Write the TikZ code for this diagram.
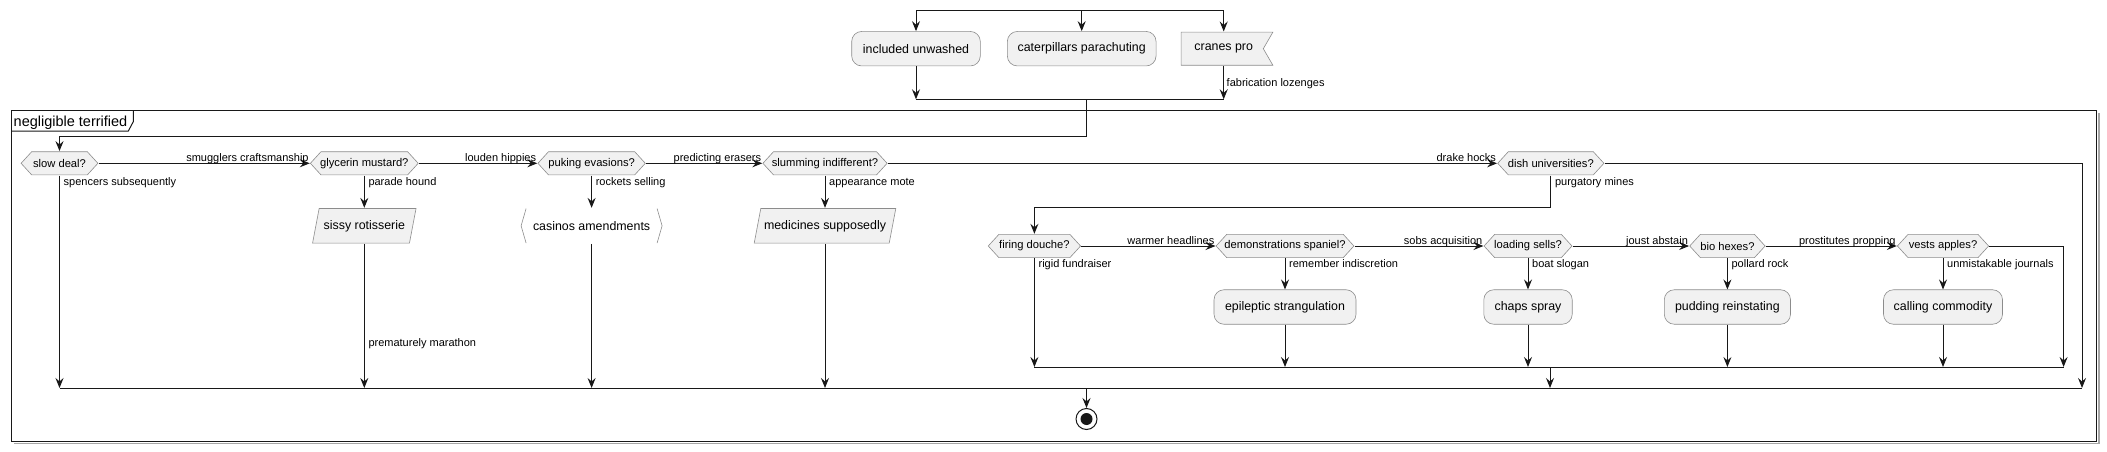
\documentclass[tikz,border=0pt]{standalone}
\usepackage{fontspec}
\setmainfont{Liberation Sans}
\usetikzlibrary{arrows.meta,calc}
\definecolor{lc}{HTML}{181818}
\definecolor{bfill}{HTML}{F1F1F1}
\definecolor{bdraw}{HTML}{8C8C8C}
\tikzset{
  flow/.style={draw=lc, line width=1pt, -{Stealth[length=10pt,width=8pt,inset=3.5pt]}},
  wire/.style={draw=lc, line width=1pt},
  lbl/.style={font=\fontsize{11}{13}\selectfont, inner sep=0pt, text=black},
  act/.style={draw=bdraw, fill=bfill, line width=0.6pt, rounded corners=10pt,
    minimum height=34.5pt, inner sep=0pt, font=\fontsize{12.4}{14}\selectfont},
  hexbox/.style={minimum height=24pt, inner sep=0pt, font=\fontsize{11.2}{13}\selectfont,
    path picture={
      \path[fill=bfill, draw=bdraw, line width=0.6pt]
        ([shift={(11pt,-0.4pt)}]path picture bounding box.north west) --
        ([shift={(-11pt,-0.4pt)}]path picture bounding box.north east) --
        ([shift={(-0.4pt,0pt)}]path picture bounding box.east) --
        ([shift={(-11pt,0.4pt)}]path picture bounding box.south east) --
        ([shift={(11pt,0.4pt)}]path picture bounding box.south west) --
        ([shift={(0.4pt,0pt)}]path picture bounding box.west) -- cycle;
    }},
  iobox/.style={minimum height=35.5pt, inner sep=0pt, font=\fontsize{12.4}{14}\selectfont,
    path picture={
      \path[fill=bfill, draw=bdraw, line width=0.6pt]
        ([shift={(7pt,-0.4pt)}]path picture bounding box.north west) --
        ([shift={(-0.4pt,-0.4pt)}]path picture bounding box.north east) --
        ([shift={(-7pt,0.4pt)}]path picture bounding box.south east) --
        ([shift={(0.4pt,0.4pt)}]path picture bounding box.south west) -- cycle;
    }},
  brbox/.style={minimum height=35.5pt, inner sep=0pt, font=\fontsize{12.4}{14}\selectfont,
    path picture={
      \path[draw=bdraw, line width=0.6pt]
        ([shift={(5.5pt,-0.5pt)}]path picture bounding box.north west) --
        ([shift={(0.5pt,0pt)}]path picture bounding box.west) --
        ([shift={(5.5pt,0.5pt)}]path picture bounding box.south west);
      \path[draw=bdraw, line width=0.6pt]
        ([shift={(-5.5pt,-0.5pt)}]path picture bounding box.north east) --
        ([shift={(-0.5pt,0pt)}]path picture bounding box.east) --
        ([shift={(-5.5pt,0.5pt)}]path picture bounding box.south east);
    }},
  flagbox/.style={minimum height=34pt, inner sep=0pt, font=\fontsize{12.4}{14}\selectfont,
    path picture={
      \path[fill=bfill, draw=bdraw, line width=0.6pt]
        ([shift={(0.4pt,-0.4pt)}]path picture bounding box.north west) --
        ([shift={(-0.4pt,-0.4pt)}]path picture bounding box.north east) --
        ([shift={(-10pt,0pt)}]path picture bounding box.east) --
        ([shift={(-0.4pt,0.4pt)}]path picture bounding box.south east) --
        ([shift={(0.4pt,0.4pt)}]path picture bounding box.south west) -- cycle;
    }},
  stopnode/.style={circle, draw=lc, line width=1pt, fill=white, minimum size=21pt, inner sep=0pt,
    path picture={\fill[lc] (path picture bounding box.center) circle (6pt);}},
  uplbl/.style={lbl, anchor=base east},
  dnlbl/.style={lbl, anchor=base west},
}
\begin{document}
\begin{tikzpicture}[x=1pt,y=-1pt]
\useasboundingbox (0,0) rectangle (2107,452);

% frame
\draw[black!35, line width=1.5pt] (14,443.7) -- (2098.9,443.7) -- (2098.9,113);
\draw[lc, line width=1.3pt] (11.7,110.7) rectangle (2096.7,441.7);
\draw[lc, line width=1pt] (11.7,131) -- (128.3,131) -- (133.3,121.7) -- (133.3,110.7);
\node[anchor=base west, inner sep=0pt, font=\fontsize{14.5}{16}\selectfont] (ftitle) at (13.5,126) {negligible terrified};

% top split
\node[act, minimum width=128.6pt] (iu) at (916,48.7) {included unwashed};
\node[act, minimum width=148.7pt] (cp) at (1081.7,48.7) {caterpillars parachuting};
\node[flagbox, minimum width=92.6pt] (cr) at (1227,48.7) {\hspace*{-6.6pt}cranes pro};
\coordinate (sL) at (916,11);
\coordinate (sR) at (1223.7,11);
\draw[wire] (sL) -- (sR);
\draw[flow] (sL) -- (iu.north);
\draw[flow] (cp.north |- sL) -- (cp.north);
\draw[flow] (sR) -- (sR |- cr.north);
\coordinate (mL) at (916,99.3);
\coordinate (mR) at (1223.7,99.3);
\coordinate (mO) at (1086.7,99.3);
\draw[wire] (mL) -- (mR);
\draw[flow] (iu.south) -- (mL);
\draw[flow] (sR |- cr.south) -- (mR);
\node[dnlbl] (lfab) at (1226.5,86.5) {fabrication lozenges};

% row 1
\node[hexbox, minimum width=77.6pt] (sd) at (59.5,163.3) {slow deal?};
\node[hexbox, minimum width=108.6pt] (gm) at (364.3,163.3) {glycerin mustard?};
\node[hexbox, minimum width=108.2pt] (pe) at (591.6,163.3) {puking evasions?};
\node[hexbox, minimum width=125pt] (si) at (825,163.3) {slumming indifferent?};
\node[hexbox, minimum width=107pt] (du) at (1550.8,163.3) {dish universities?};

\coordinate (e1) at (1086.7,136.5);
\draw[flow] (mO) -- (e1) -| (sd.north);

\draw[flow] (sd.east) -- (gm.west);
\node[uplbl] at ([shift={(-1pt,2pt)}]gm.west) {smugglers craftsmanship};
\draw[flow] (gm.east) -- (pe.west);
\node[uplbl] at ([shift={(-1pt,2pt)}]pe.west) {louden hippies};
\draw[flow] (pe.east) -- (si.west);
\node[uplbl] at ([shift={(-1pt,2pt)}]si.west) {predicting erasers};
\draw[flow] (si.east) -- (du.west);
\node[uplbl] at ([shift={(-1pt,2pt)}]du.west) {drake hocks};

% row 1 boxes
\node[iobox, minimum width=104.3pt] (sr) at (364.3,225.8) {sissy rotisserie};
\node[brbox, minimum width=142pt] (ca) at (591.6,225.8) {casinos amendments};
\node[iobox, minimum width=142.4pt] (ms) at (825,225.8) {medicines supposedly};

\draw[flow] (gm.south) -- (sr.north);
\node[dnlbl] at ([shift={(4pt,-9.7pt)}]gm.south) {parade hound};
\draw[flow] (pe.south) -- (ca.north);
\node[dnlbl] at ([shift={(4pt,-9.7pt)}]pe.south) {rockets selling};
\draw[flow] (si.south) -- (ms.north);
\node[dnlbl] at ([shift={(4pt,-9.7pt)}]si.south) {appearance mote};

% outer merge
\coordinate (oL) at (59.5,388);
\coordinate (oR) at (2082,388);
\draw[wire] (oL) -- (oR);
\draw[flow] (sd.south) -- (oL);
\node[dnlbl] at ([shift={(4pt,-9.7pt)}]sd.south) {spencers subsequently};
\draw[flow] (sr.south) -- (sr.south |- oL);
\node[dnlbl] at (368.3,346.5) {prematurely marathon};
\draw[flow] (ca.south) -- (ca.south |- oL);
\draw[flow] (ms.south) -- (ms.south |- oL);
\draw[flow] (du.east) -| (oR);

% row 2
\node[hexbox, minimum width=93.1pt] (fd) at (1034.4,246) {firing douche?};
\node[hexbox, minimum width=138.6pt] (ds) at (1285,246) {demonstrations spaniel?};
\node[hexbox, minimum width=88.7pt] (ls) at (1528,246) {loading sells?};
\node[hexbox, minimum width=76.2pt] (bh) at (1727.4,246) {bio hexes?};
\node[hexbox, minimum width=92pt] (va) at (1943,246) {vests apples?};

\coordinate (pt) at (1550.8,207.5);
\draw[flow] (du.south) -- (pt) -| (fd.north);
\node[dnlbl] at ([shift={(4pt,-9.7pt)}]du.south) {purgatory mines};

\draw[flow] (fd.east) -- (ds.west);
\node[uplbl] at ([shift={(-1pt,2pt)}]ds.west) {warmer headlines};
\draw[flow] (ds.east) -- (ls.west);
\node[uplbl] at ([shift={(-1pt,2pt)}]ls.west) {sobs acquisition};
\draw[flow] (ls.east) -- (bh.west);
\node[uplbl] at ([shift={(-1pt,2pt)}]bh.west) {joust abstain};
\draw[flow] (bh.east) -- (va.west);
\node[uplbl] at ([shift={(-1pt,2pt)}]va.west) {prostitutes propping};

% row 2 boxes
\node[act, minimum width=142pt] (es) at (1285,307) {epileptic strangulation};
\node[act, minimum width=88.4pt] (cs) at (1528,307) {chaps spray};
\node[act, minimum width=126.2pt] (pr) at (1727.4,307) {pudding reinstating};
\node[act, minimum width=119pt] (cc) at (1943,307) {calling commodity};

\draw[flow] (ds.south) -- (es.north);
\node[dnlbl] at ([shift={(4pt,-9.7pt)}]ds.south) {remember indiscretion};
\draw[flow] (ls.south) -- (cs.north);
\node[dnlbl] at ([shift={(4pt,-9.7pt)}]ls.south) {boat slogan};
\draw[flow] (bh.south) -- (pr.north);
\node[dnlbl] at ([shift={(4pt,-9.7pt)}]bh.south) {pollard rock};
\draw[flow] (va.south) -- (cc.north);
\node[dnlbl] at ([shift={(4pt,-9.7pt)}]va.south) {unmistakable journals};

% inner merge
\coordinate (iL) at (1034.4,367);
\coordinate (iR) at (2063.6,367);
\coordinate (iO) at (1550,367);
\draw[wire] (iL) -- (iR);
\draw[flow] (fd.south) -- (iL);
\node[dnlbl] at ([shift={(4pt,-9.7pt)}]fd.south) {rigid fundraiser};
\draw[flow] (es.south) -- (es.south |- iL);
\draw[flow] (cs.south) -- (cs.south |- iL);
\draw[flow] (pr.south) -- (pr.south |- iL);
\draw[flow] (cc.south) -- (cc.south |- iL);
\draw[flow] (va.east) -| (iR);
\draw[flow] (iO) -- (iO |- oL);

% stop
\node[stopnode] (st) at (1086.5,419) {};
\coordinate (oS) at (1086.5,388);
\draw[flow] (oS) -- (st.north);
\end{tikzpicture}
\end{document}
